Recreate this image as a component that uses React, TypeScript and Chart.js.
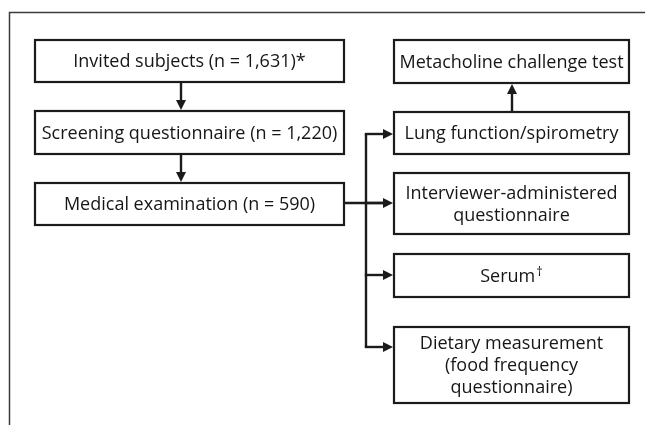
import { useEffect, useRef } from "react";
import { Chart, registerables } from "chart.js";

Chart.register(...registerables);

// ---- Data (text content of the flow chart) ----
const mainSteps = ["Invited subjects", "Screening questionnaire", "Medical examination"];
const mainCounts = ["1,631", "1,220", "590"];
const mainMarks = ["*", "", ""];
const examComponents = [
  ["Lung function/spirometry"],
  ["Interviewer-administered", "questionnaire"],
  ["Serum"],
  ["Dietary measurement", "(food frequency", "questionnaire)"],
];
const examMarks = ["", "", "\u2020", ""];
const followUp = ["Metacholine challenge test"];

// ---- Layout (coordinate space of the scales: 0..645 x 0..425) ----
const W = 645;
const H = 425;
const leftCol = { x0: 35, x1: 344 };
const rightCol = { x0: 394, x1: 629 };
const mainRows = [
  [40, 82],
  [111, 154],
  [183, 225],
];
const compRows = [
  [112, 154],
  [173, 234],
  [254, 297],
  [327, 403],
];
const followRow = [40, 83];
const trunkX = 366;
const branchYs = [134, 203, 275, 347];
const mainArrowX = 181;
const followArrowX = 512;

const FONT = '"Open Sans", "Noto Sans", sans-serif';
const FONT_SIZE = 18;
const LINE_H = 21.8;
const STROKE = "#1b1b1b";
const TEXT = "#161616";

const flowPlugin = {
  id: "flow",
  afterDraw(chart: any) {
    const ctx = chart.ctx as CanvasRenderingContext2D;
    const xs = chart.scales.x;
    const ys = chart.scales.y;
    const px = (v: number) => xs.getPixelForValue(v);
    const py = (v: number) => ys.getPixelForValue(v);

    ctx.save();
    // frame
    ctx.strokeStyle = "#3c3c3c";
    ctx.lineWidth = 1.5;
    ctx.beginPath();
    ctx.moveTo(px(9.5), py(H));
    ctx.lineTo(px(9.5), py(12.5));
    ctx.lineTo(px(W), py(12.5));
    ctx.stroke();

    const box = (x0: number, x1: number, y0: number, y1: number) => {
      ctx.fillStyle = "#ffffff";
      ctx.fillRect(px(x0), py(y0), px(x1) - px(x0), py(y1) - py(y0));
      ctx.strokeStyle = STROKE;
      ctx.lineWidth = 2.2;
      ctx.strokeRect(px(x0), py(y0), px(x1) - px(x0), py(y1) - py(y0));
    };

    const text = (lines: string[], x0: number, x1: number, y0: number, y1: number, sup = "") => {
      ctx.fillStyle = TEXT;
      ctx.textBaseline = "middle";
      ctx.textAlign = "left";
      const cx = (px(x0) + px(x1)) / 2;
      const cy = (py(y0) + py(y1)) / 2;
      const n = lines.length;
      const supSize = FONT_SIZE * 0.72;
      lines.forEach((ln, i) => {
        const y = cy + (i - (n - 1) / 2) * LINE_H + 1;
        ctx.font = `${FONT_SIZE}px ${FONT}`;
        const w = ctx.measureText(ln).width;
        let sw = 0;
        if (sup && i === n - 1) {
          ctx.font = `${supSize}px ${FONT}`;
          sw = ctx.measureText(sup).width + 1;
        }
        const start = cx - (w + sw) / 2;
        ctx.font = `${FONT_SIZE}px ${FONT}`;
        ctx.fillText(ln, start, y);
        if (sw) {
          ctx.font = `${supSize}px ${FONT}`;
          ctx.fillText(sup, start + w + 1, y - 4);
        }
      });
    };

    const line = (pts: number[][]) => {
      ctx.strokeStyle = STROKE;
      ctx.lineWidth = 2.4;
      ctx.lineJoin = "miter";
      ctx.beginPath();
      pts.forEach(([x, y], i) => (i ? ctx.lineTo(px(x), py(y)) : ctx.moveTo(px(x), py(y))));
      ctx.stroke();
    };

    const arrow = (x: number, y: number, dir: "r" | "d" | "u") => {
      const L = 10;
      const h = 5;
      const tx = px(x);
      const ty = py(y);
      ctx.fillStyle = STROKE;
      ctx.beginPath();
      if (dir === "r") {
        ctx.moveTo(tx, ty);
        ctx.lineTo(tx - L, ty - h);
        ctx.lineTo(tx - L, ty + h);
      } else if (dir === "d") {
        ctx.moveTo(tx, ty);
        ctx.lineTo(tx - h, ty - L);
        ctx.lineTo(tx + h, ty - L);
      } else {
        ctx.moveTo(tx, ty);
        ctx.lineTo(tx - h, ty + L);
        ctx.lineTo(tx + h, ty + L);
      }
      ctx.closePath();
      ctx.fill();
    };

    // connectors
    line([[mainArrowX, mainRows[0][1]], [mainArrowX, mainRows[1][0] - 6]]);
    arrow(mainArrowX, mainRows[1][0] - 1, "d");
    line([[mainArrowX, mainRows[1][1]], [mainArrowX, mainRows[2][0] - 6]]);
    arrow(mainArrowX, mainRows[2][0] - 1, "d");
    line([[leftCol.x1, branchYs[1]], [rightCol.x0 - 6, branchYs[1]]]);
    line([[trunkX, branchYs[0]], [trunkX, branchYs[3]]]);
    branchYs.forEach((y) => {
      line([[trunkX - 1.2, y], [rightCol.x0 - 6, y]]);
      arrow(rightCol.x0 - 1, y, "r");
    });
    line([[followArrowX, compRows[0][0]], [followArrowX, followRow[1] + 6]]);
    arrow(followArrowX, followRow[1] + 1, "u");

    // boxes
    mainSteps.forEach((s, i) => {
      const [y0, y1] = mainRows[i];
      box(leftCol.x0, leftCol.x1, y0, y1);
      text([`${s} (n = ${mainCounts[i]})${mainMarks[i]}`], leftCol.x0, leftCol.x1, y0, y1);
    });
    examComponents.forEach((lines, i) => {
      const [y0, y1] = compRows[i];
      box(rightCol.x0, rightCol.x1, y0, y1);
      text(lines, rightCol.x0, rightCol.x1, y0, y1, examMarks[i]);
    });
    box(rightCol.x0, rightCol.x1, followRow[0], followRow[1]);
    text(followUp, rightCol.x0, rightCol.x1, followRow[0], followRow[1]);

    ctx.restore();
  },
};

export default function App() {
  const ref = useRef<HTMLCanvasElement | null>(null);
  useEffect(() => {
    if (!ref.current) return;
    const chart = new Chart(ref.current, {
      type: "scatter",
      data: { datasets: [{ data: [], pointRadius: 0 }] },
      options: {
        animation: false,
        responsive: false,
        maintainAspectRatio: false,
        layout: { padding: 0 },
        plugins: { legend: { display: false }, tooltip: { enabled: false } },
        scales: {
          x: { type: "linear", min: 0, max: W, display: false },
          y: { type: "linear", min: 0, max: H, reverse: true, display: false },
        },
      },
      plugins: [flowPlugin],
    });
    return () => chart.destroy();
  }, []);
  return (
    <div style={{ position: "absolute", left: 0, top: 0, width: W, height: H, background: "#fff" }}>
      <canvas ref={ref} width={W} height={H} style={{ width: W, height: H, display: "block" }} />
    </div>
  );
}
